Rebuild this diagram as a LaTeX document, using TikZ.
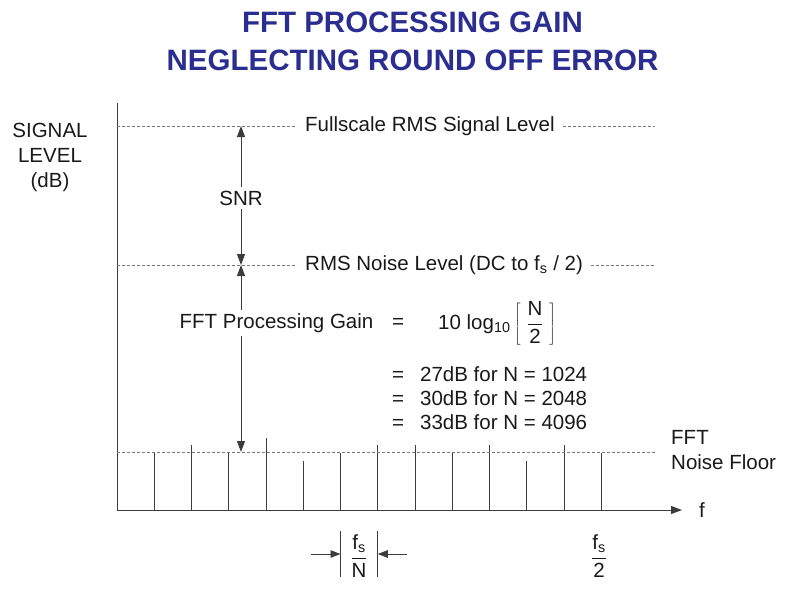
\documentclass[tikz,border=0pt]{standalone}
\usepackage{fontspec}
\setmainfont{Liberation Sans}
\usepackage{xcolor}
\usepackage{tikz}
\usetikzlibrary{positioning,arrows.meta}
\definecolor{titleblue}{RGB}{43,46,145}
\definecolor{axisgray}{RGB}{60,60,60}
\definecolor{dashgray}{RGB}{120,120,120}

\begin{document}
\begin{tikzpicture}[x=1pt, y=-1pt, node distance=17pt, font=\fontsize{20.5}{25}\selectfont, text=black!90]
    % Define styles
    \tikzstyle{heading} = [font=\fontsize{29.5}{38}\selectfont\bfseries, text=titleblue, align=center]
    \tikzstyle{axis} = [draw=axisgray, line width=1pt, -{Triangle[length=11pt,width=8pt]}]
    \tikzstyle{spike} = [draw=axisgray, line width=0.9pt]
    \tikzstyle{levelline} = [draw=dashgray, line width=0.7pt, dash pattern=on 3pt off 2pt]
    \tikzstyle{levelname} = [anchor=west, inner xsep=8pt]
    \tikzstyle{arrow} = [draw=axisgray, line width=0.9pt, -{Triangle[length=11pt,width=8pt]}]
    \tikzstyle{smallarrow} = [draw=axisgray, line width=0.9pt, -{Triangle[length=10pt,width=7.5pt]}]

    \useasboundingbox (0,0) rectangle (800,600);

    % Coordinates
    \coordinate (origin) at (117,510);
    \coordinate (ytop) at (117,103);
    \coordinate (xend) at (682,510);
    \coordinate (fullL) at (117,126);
    \coordinate (fullR) at (655,126);
    \coordinate (rmsL) at (117,265);
    \coordinate (rmsR) at (655,265);
    \coordinate (floorL) at (117,452);
    \coordinate (floorR) at (655,452);
    \coordinate (snrtop) at (241,126);
    \coordinate (snrbot) at (241,265);
    \coordinate (gainbot) at (241,452);
    \coordinate (bintopL) at (340.5,531);
    \coordinate (binbotL) at (340.5,577);
    \coordinate (bintopR) at (377.75,531);
    \coordinate (binbotR) at (377.75,577);
    \coordinate (arrL) at (311,554);
    \coordinate (arrR) at (407,554);

    % Nodes
    \node[heading] (title) at (412.5,41) {FFT PROCESSING GAIN\\NEGLECTING ROUND OFF ERROR};
    \node[align=center] (ylabel) at (50,157) {SIGNAL\\LEVEL\\(dB)};
    \node[levelname] (full) at (297,126) {Fullscale RMS Signal Level};
    \node[levelname] (rms) at (297,265) {RMS Noise Level (DC to f\textsubscript{s} / 2)};
    \node (snr) at (241,198) {SNR};
    \node (gain) at (276.5,323) {FFT Processing Gain};
    \node (eq) at (398,323) {=};
    \node[anchor=west, inner sep=0pt] (formula) at (438,323) {10 log\textsubscript{10}\,$\left[\;\displaystyle\frac{\mbox{N}}{\mbox{2}}\;\right]$};
    \node[anchor=west, align=left, inner sep=0pt, font=\fontsize{20.5}{24}\selectfont] (results) at (392,398)
        {=\hspace{16pt}27dB for N = 1024\\=\hspace{16pt}30dB for N = 2048\\=\hspace{16pt}33dB for N = 4096};
    \node[anchor=west, align=left, inner sep=0pt] (floor) at (671,450) {FFT\\Noise Floor};
    \node[right=of xend, inner sep=0pt] (flabel) {f};
    \node (binwidth) at (359,556) {$\displaystyle\frac{\mbox{f\textsubscript{s}}}{\mbox{N}}$};
    \node (nyquist) at (599,556) {$\displaystyle\frac{\mbox{f\textsubscript{s}}}{\mbox{2}}$};

    % Spectrum
    \foreach \i/\top in {1/453,2/445,3/453,4/438,5/461,6/453,7/445,8/445,9/453,10/445,11/461,12/445,13/453}
        \draw[spike] (117+37.25*\i,510) -- (117+37.25*\i,\top);
    \draw[axis] (ytop) -- (origin) -- (xend);

    % Levels
    \draw[levelline] (fullL) -- (full);
    \draw[levelline] (full) -- (fullR);
    \draw[levelline] (rmsL) -- (rms);
    \draw[levelline] (rms) -- (rmsR);
    \draw[levelline] (floorL) -- (floorR);

    % Arrows
    \draw[arrow] (snr) -- (snrtop);
    \draw[arrow] (snr) -- (snrbot);
    \draw[arrow] (gain.north -| snrbot) -- (snrbot);
    \draw[arrow] (gain.south -| gainbot) -- (gainbot);
    \draw[spike] (bintopL) -- (binbotL);
    \draw[spike] (bintopR) -- (binbotR);
    \draw[smallarrow] (arrL) -- (arrL -| bintopL);
    \draw[smallarrow] (arrR) -- (arrR -| bintopR);
\end{tikzpicture}
\end{document}
